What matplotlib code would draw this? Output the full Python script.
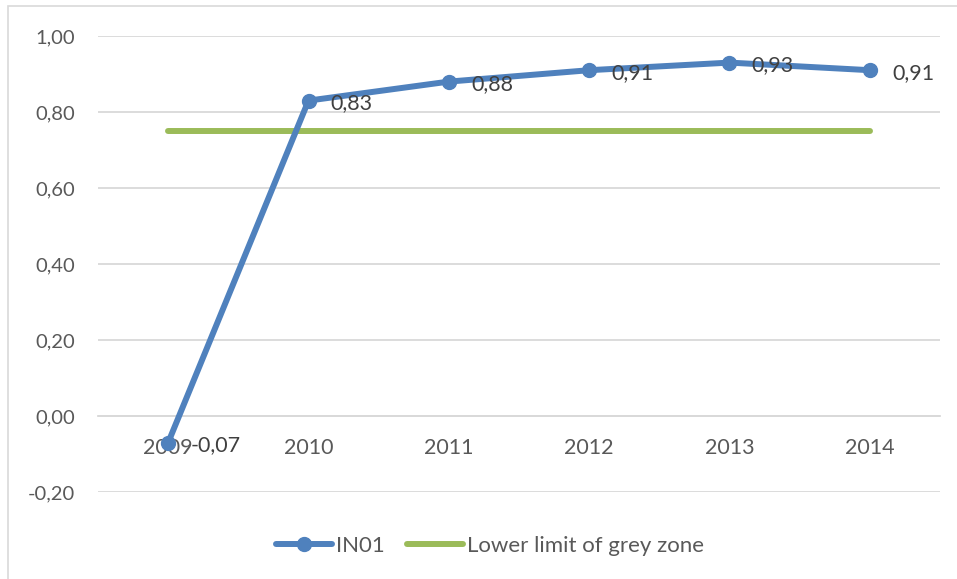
import matplotlib
matplotlib.use("Agg")
import matplotlib.pyplot as plt
from matplotlib.patches import Rectangle

# Series
years = ["2009", "2010", "2011", "2012", "2013", "2014"]
in01 = [-0.07, 0.83, 0.88, 0.91, 0.93, 0.91]
grey_zone_low = [0.75, 0.75, 0.75, 0.75, 0.75, 0.75]
y_ticks = [-0.20, 0.00, 0.20, 0.40, 0.60, 0.80, 1.00]

BLUE = "#4F81BD"
GREEN = "#9BBB59"
GRID = "#D9D9D9"
TXT = "#595959"

plt.rcParams["font.family"] = ["Lato", "DejaVu Sans"]

fig = plt.figure(figsize=(9.57, 5.79), dpi=100)
ax = fig.add_axes([98 / 957, 1 - 492 / 579, 842 / 957, 456 / 579])

# light chart border
fig.patches.append(Rectangle((8 / 957, -0.1), 1.2, 1 - 6 / 579 + 0.1,
                             transform=fig.transFigure, fill=False,
                             edgecolor=GRID, lw=1.2))

x = list(range(len(years)))
ax.plot(x, grey_zone_low, color=GREEN, lw=4.3, solid_capstyle="round",
        label="Lower limit of grey zone", zorder=3)
ax.plot(x, in01, color=BLUE, lw=4.3, marker="o", markersize=10,
        solid_capstyle="round", label="IN01", zorder=4)

# value labels right of each point
for xi, v in zip(x, in01):
    ax.annotate(f"{v:.2f}".replace(".", ","), (xi, v), xytext=(16, -2),
                textcoords="offset points", ha="left", va="center",
                fontsize=15.5, color="#404040", zorder=5)

ax.set_xlim(-0.5, len(years) - 0.5)
ax.set_ylim(-0.2, 1.0)
ax.set_yticks(y_ticks)
ax.set_yticklabels([f"{t:.2f}".replace(".", ",") for t in y_ticks])
ax.set_xticks(x)
ax.set_xticklabels(years)

ax.grid(axis="y", color=GRID, lw=1.3)
ax.set_axisbelow(True)
for side in ["top", "right", "left"]:
    ax.spines[side].set_visible(False)
ax.spines["bottom"].set_position(("data", 0))
ax.spines["bottom"].set_color(GRID)
ax.spines["bottom"].set_linewidth(1.3)
ax.tick_params(axis="both", length=0, colors=TXT)
ax.tick_params(axis="y", pad=16.5, labelsize=14.5)
ax.tick_params(axis="x", pad=16, labelsize=15.5)

handles, labels = ax.get_legend_handles_labels()
leg = fig.legend(handles[::-1], labels[::-1], loc="center",
                 bbox_to_anchor=(0.512, 1 - 546 / 579), ncol=2, frameon=False,
                 fontsize=16, handlelength=2.5, handletextpad=0.2,
                 columnspacing=1.0)
for t in leg.get_texts():
    t.set_color(TXT)

fig.savefig("out.png", dpi=100)
